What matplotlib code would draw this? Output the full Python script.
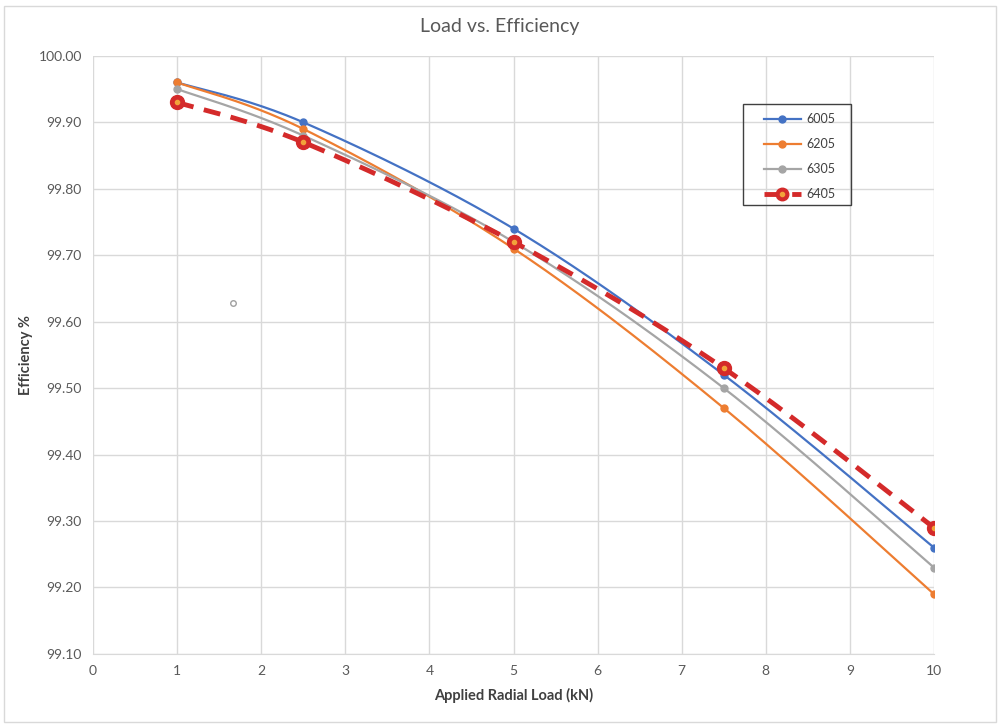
import numpy as np
import matplotlib
matplotlib.use("Agg")
import matplotlib.pyplot as plt
from matplotlib.patches import Rectangle

# data
load_kn = [1, 2.5, 5, 7.5, 10]
eff_6005 = [99.96, 99.90, 99.74, 99.52, 99.26]
eff_6205 = [99.96, 99.89, 99.71, 99.47, 99.19]
eff_6305 = [99.95, 99.88, 99.72, 99.50, 99.23]
eff_6405 = [99.93, 99.87, 99.72, 99.53, 99.29]
stray_x = [1.67]
stray_y = [99.628]

plt.rcParams['font.family'] = ['Lato', 'DejaVu Sans']


def smooth(x, y, n=40):
    """Excel-like smoothed line: Catmull-Rom segments drawn as Bezier curves."""
    x = np.asarray(x, float)
    y = np.asarray(y, float)
    px = np.concatenate([[x[0]], x, [x[-1]]])
    py = np.concatenate([[y[0]], y, [y[-1]]])
    t = np.linspace(0, 1, n)[:, None]
    xs, ys = [], []
    for i in range(1, len(px) - 2):
        p0 = np.array([px[i], py[i]])
        p3 = np.array([px[i + 1], py[i + 1]])
        p1 = p0 + (np.array([px[i + 1], py[i + 1]]) - np.array([px[i - 1], py[i - 1]])) / 6
        p2 = p3 - (np.array([px[i + 2], py[i + 2]]) - np.array([px[i], py[i]])) / 6
        b = ((1 - t) ** 3) * p0 + 3 * ((1 - t) ** 2) * t * p1 + 3 * (1 - t) * t ** 2 * p2 + t ** 3 * p3
        xs.append(b[:, 0])
        ys.append(b[:, 1])
    return np.concatenate(xs), np.concatenate(ys)


fig = plt.figure(figsize=(10, 7.25), dpi=100)
ax = fig.add_axes([0.093, 0.098, 0.841, 0.825])

series = [
    ("6005", eff_6005, "#4472C4"),
    ("6205", eff_6205, "#ED7D31"),
    ("6305", eff_6305, "#A5A5A5"),
]
for name, vals, col in series:
    sx, sy = smooth(load_kn, vals)
    ax.plot(sx, sy, color=col, lw=1.6, zorder=3)
    ax.plot(load_kn, vals, 'o', color=col, ms=5, zorder=4)

sx, sy = smooth(load_kn, eff_6405)
ax.plot(sx, sy, color="#D42A2A", lw=3.5, ls=(0, (3.5, 2.2)), zorder=5)
ax.plot(load_kn, eff_6405, 'o', color="#D42A2A", ms=10, zorder=6)
ax.plot(load_kn, eff_6405, 'o', color="#F2A33A", ms=3, zorder=7)

ax.plot(stray_x, stray_y, 'o', mfc='white', mec='#A0A0A0', ms=4, mew=1, zorder=3)

ax.set_xlim(0, 10)
ax.set_ylim(99.10, 100.00)
ax.set_xticks(range(0, 11))
yt = np.arange(99.10, 100.001, 0.10)
ax.set_yticks(yt)
ax.set_yticklabels([f"{v:.2f}" for v in yt])
ax.grid(True, color="#D9D9D9", lw=1)
ax.set_axisbelow(True)
ax.tick_params(length=0, labelsize=10, colors="#595959", pad=8)
for s in ["top", "right", "left"]:
    ax.spines[s].set_visible(False)
ax.spines["bottom"].set_color("#D9D9D9")

ax.set_xlabel("Applied Radial Load (kN)", fontsize=10.5, fontweight="bold", color="#404040", labelpad=8)
ax.set_ylabel("Efficiency %", fontsize=10.5, fontweight="bold", color="#404040", labelpad=4)
fig.text(0.5, 0.963, "Load vs. Efficiency", ha="center", va="center", fontsize=14, color="#595959")

# legend box drawn by hand to get Excel-like spacing
lx0, lx1 = 0.743, 0.851
ly0, ly1 = 1 - 205 / 725, 1 - 104 / 725
fig.patches.append(Rectangle((lx0, ly0), lx1 - lx0, ly1 - ly0, transform=fig.transFigure,
                             fill=False, ec="#404040", lw=1))
legend_rows = [("6005", "#4472C4"), ("6205", "#ED7D31"), ("6305", "#A5A5A5"), ("6405", "#D42A2A")]
for i, (name, col) in enumerate(legend_rows):
    yy = 1 - (119 + i * 25) / 725
    if name == "6405":
        fig.add_artist(plt.Line2D([0.764, 0.801], [yy, yy], color=col, lw=3.5, ls=(0, (3.5, 2.2)),
                                  transform=fig.transFigure))
        fig.add_artist(plt.Line2D([0.782], [yy], color=col, marker='o', ms=9, ls='', transform=fig.transFigure))
        fig.add_artist(plt.Line2D([0.782], [yy], color="#F2A33A", marker='o', ms=3, ls='', transform=fig.transFigure))
    else:
        fig.add_artist(plt.Line2D([0.764, 0.801], [yy, yy], color=col, lw=1.6, transform=fig.transFigure))
        fig.add_artist(plt.Line2D([0.782], [yy], color=col, marker='o', ms=5, ls='', transform=fig.transFigure))
    fig.text(0.806, yy, name, fontsize=9, color="#404040", va="center")

# outer chart border
fig.patches.append(Rectangle((0.004, 0.004), 0.992, 0.988, transform=fig.transFigure,
                             fill=False, ec="#D9D9D9", lw=1))

fig.savefig("out.png", dpi=100)
